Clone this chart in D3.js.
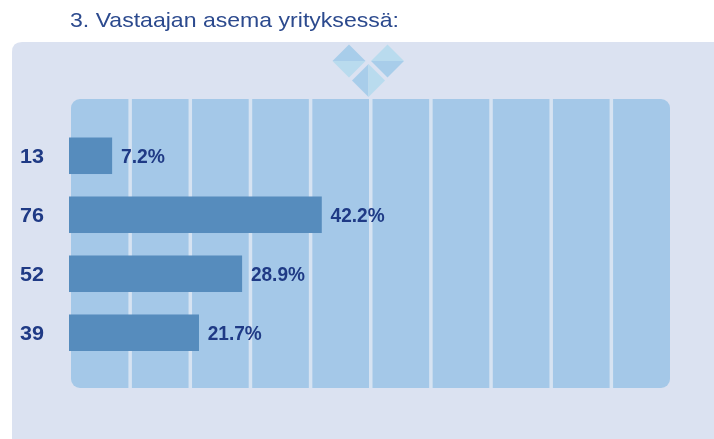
<!DOCTYPE html>
<html><head><meta charset="utf-8">
<script src="https://cdn.jsdelivr.net/npm/d3@7/dist/d3.min.js"></script>
<style>html,body{margin:0;padding:0;background:#fff;overflow:hidden}svg{display:block;filter:blur(0.45px)}</style>
</head><body><svg id="c" width="714" height="439"></svg>
<script>
const title = "3. Vastaajan asema yrityksessä:";
const counts = [13, 76, 52, 39];
const percents = [7.2, 42.2, 28.9, 21.7];
const gridTicks = [10, 20, 30, 40, 50, 60, 70, 80, 90];
const rows = ["a", "b", "c", "d"];

const svg = d3.select("#c");
const x = d3.scaleLinear().domain([0, 100]).range([69, 668]);
const gridX = d3.scaleLinear().domain([0, 100]).range([70, 671.5]);
const y = d3.scaleBand().domain(rows).range([125.7, 362.8]).paddingInner(0.381).paddingOuter(0.2);
const font = "Liberation Sans, Arial, sans-serif";

svg.append("text").attr("x", 70).attr("y", 27).attr("fill", "#2c4a8e")
  .attr("font-family", font).attr("font-size", 21)
  .attr("textLength", 329).attr("lengthAdjust", "spacingAndGlyphs").text(title);

// outer panel, bleeding off the right and bottom edges
svg.append("path").attr("fill", "#dbe2f1")
  .attr("d", "M12 439V52Q12 42 22 42H714V439Z");

// diamond emblem
const dark = "#a8cdea", pale = "#b9dbee";
function diamond(cx, cy, r, vertical, c1, c2) {
  const a = vertical
    ? [[cx, cy - r], [cx - r, cy], [cx, cy + r]]
    : [[cx - r, cy], [cx, cy - r], [cx + r, cy]];
  const b = vertical
    ? [[cx, cy - r], [cx + r, cy], [cx, cy + r]]
    : [[cx - r, cy], [cx, cy + r], [cx + r, cy]];
  svg.append("polygon").attr("points", a.join(" ")).attr("fill", c1);
  svg.append("polygon").attr("points", b.join(" ")).attr("fill", c2);
}
diamond(349, 61, 16.5, false, dark, pale);
diamond(387.5, 61, 16.5, false, pale, dark);
diamond(368.5, 80.5, 16.5, true, dark, pale);

// plot area
svg.append("rect").attr("x", 71).attr("y", 99).attr("width", 599).attr("height", 289).attr("rx", 9).attr("fill", "#a4c8e8");

// separators
svg.selectAll("line.g").data(gridTicks).join("line").attr("class", "g")
  .attr("x1", d => gridX(d)).attr("x2", d => gridX(d))
  .attr("y1", 99).attr("y2", 388)
  .attr("stroke", "#d6e3f2").attr("stroke-width", 3.5);

// bars
svg.selectAll("rect.b").data(percents).join("rect").attr("class", "b")
  .attr("x", x(0)).attr("y", (d, i) => y(rows[i]))
  .attr("width", d => x(d) - x(0)).attr("height", y.bandwidth())
  .attr("fill", "#568cbd");

svg.selectAll("text.n").data(counts).join("text").attr("class", "n")
  .attr("x", 20).attr("y", (d, i) => y(rows[i]) + y.bandwidth() / 2 + 7.5)
  .attr("font-family", font).attr("font-weight", "bold").attr("font-size", 21).attr("fill", "#1f3a85")
  .attr("textLength", 24).attr("lengthAdjust", "spacingAndGlyphs")
  .text(d => d);
svg.selectAll("text.p").data(percents).join("text").attr("class", "p")
  .attr("x", d => x(d) + 8.8).attr("y", (d, i) => y(rows[i]) + y.bandwidth() / 2 + 7)
  .attr("font-family", font).attr("font-weight", "bold").attr("font-size", 19.5).attr("fill", "#1f3a85")
  .attr("textLength", d => d < 10 ? 44 : 54).attr("lengthAdjust", "spacingAndGlyphs")
  .text(d => d.toFixed(1) + "%");
</script></body></html>
